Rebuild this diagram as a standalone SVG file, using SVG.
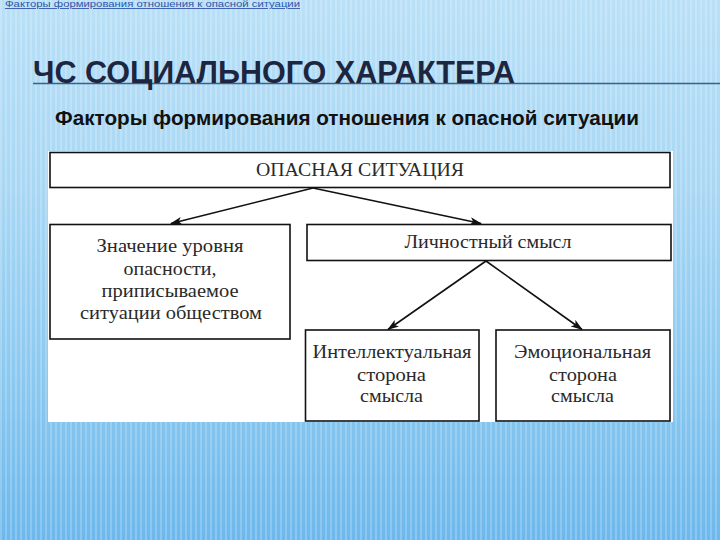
<svg xmlns="http://www.w3.org/2000/svg" width="720" height="540" viewBox="0 0 720 540">
<defs>
<linearGradient id="bg" x1="0" y1="0" x2="0" y2="1">
<stop offset="0" stop-color="#b9e0f7"/>
<stop offset="0.35" stop-color="#a9d7f4"/>
<stop offset="0.7" stop-color="#8cc9f0"/>
<stop offset="1" stop-color="#6db8ec"/>
</linearGradient>
<pattern id="stripes" width="5" height="10" patternUnits="userSpaceOnUse">
<rect x="0" y="0" width="2" height="10" fill="#ffffff" opacity="0.2"/>
</pattern>
<marker id="arr" viewBox="0 0 12 8" refX="11" refY="4" markerWidth="12" markerHeight="8" markerUnits="userSpaceOnUse" orient="auto">
<path d="M0,0 L12,4 L0,8 L3,4 z" fill="#111"/>
</marker>
<style>
.box{fill:#fff;stroke:#111;stroke-width:1.6}
.lbl{font-family:"Liberation Serif","Times New Roman",serif;font-size:19px;fill:#2a2a2a;text-anchor:middle}
.conn{stroke:#111;stroke-width:1.6;fill:none;marker-end:url(#arr)}
</style>
</defs>
<rect x="0" y="0" width="720" height="540" fill="url(#bg)"/>
<rect x="0" y="0" width="720" height="540" fill="url(#stripes)"/>

<g id="header">
<text x="5" y="7" font-family="'Liberation Sans',Arial,sans-serif" font-size="9" fill="#2f56a8" text-decoration="underline" textLength="295" lengthAdjust="spacingAndGlyphs">Факторы формирования отношения к опасной ситуации</text>
<line x1="33" y1="83.5" x2="720" y2="83.5" stroke="#3a5f8a" stroke-width="1.5"/>
<text x="33" y="82.5" font-family="'Liberation Sans',Arial,sans-serif" font-size="31" font-weight="bold" fill="#1c2640" textLength="482" lengthAdjust="spacingAndGlyphs">ЧС СОЦИАЛЬНОГО ХАРАКТЕРА</text>
<text x="55" y="125" font-family="'Liberation Sans',Arial,sans-serif" font-size="20" font-weight="bold" fill="#111" textLength="584" lengthAdjust="spacingAndGlyphs">Факторы формирования отношения к опасной ситуации</text>
</g>

<rect x="48" y="151" width="625" height="271" fill="#ffffff"/>

<g id="connectors">
<line class="conn" x1="313" y1="188" x2="171" y2="223.5"/>
<line class="conn" x1="313" y1="188" x2="481" y2="223.5"/>
<line class="conn" x1="486" y1="261" x2="388" y2="329.5"/>
<line class="conn" x1="486" y1="261" x2="582" y2="329.5"/>
</g>

<g id="n-situation">
<rect class="box" x="50" y="152.5" width="620" height="35"/>
<text class="lbl" x="360" y="176" textLength="208" lengthAdjust="spacingAndGlyphs">ОПАСНАЯ СИТУАЦИЯ</text>
</g>

<g id="n-level">
<rect class="box" x="50" y="224.5" width="240" height="114.5"/>
<text class="lbl" x="170" y="252" textLength="147" lengthAdjust="spacingAndGlyphs">Значение уровня</text>
<text class="lbl" x="170" y="274.5" textLength="93" lengthAdjust="spacingAndGlyphs">опасности,</text>
<text class="lbl" x="170" y="296.5" textLength="137" lengthAdjust="spacingAndGlyphs">приписываемое</text>
<text class="lbl" x="171" y="318.5" textLength="182" lengthAdjust="spacingAndGlyphs">ситуации обществом</text>
</g>

<g id="n-personal">
<rect class="box" x="307" y="224.5" width="364" height="36"/>
<text class="lbl" x="488" y="248" textLength="167" lengthAdjust="spacingAndGlyphs">Личностный смысл</text>
</g>

<g id="n-intellect">
<rect class="box" x="305.5" y="330" width="173.5" height="91"/>
<text class="lbl" x="392" y="358" textLength="159" lengthAdjust="spacingAndGlyphs">Интеллектуальная</text>
<text class="lbl" x="391.5" y="380.5" textLength="69" lengthAdjust="spacingAndGlyphs">сторона</text>
<text class="lbl" x="391.5" y="402" textLength="63" lengthAdjust="spacingAndGlyphs">смысла</text>
</g>

<g id="n-emotion">
<rect class="box" x="496" y="330" width="174" height="91"/>
<text class="lbl" x="582.5" y="358" textLength="137" lengthAdjust="spacingAndGlyphs">Эмоциональная</text>
<text class="lbl" x="583" y="380.5" textLength="68" lengthAdjust="spacingAndGlyphs">сторона</text>
<text class="lbl" x="582.5" y="402" textLength="63" lengthAdjust="spacingAndGlyphs">смысла</text>
</g>
</svg>
